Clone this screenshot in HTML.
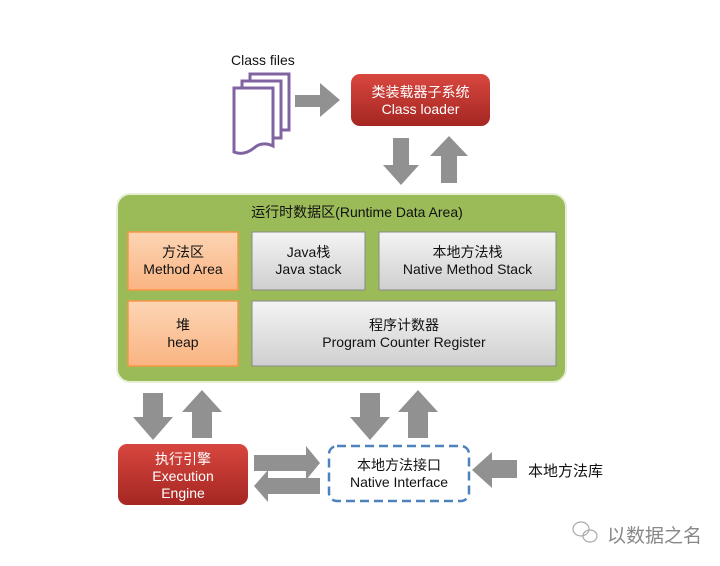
<!DOCTYPE html>
<html><head><meta charset="utf-8"><style>
body{margin:0;background:#fff;}
svg{display:block;font-family:"Liberation Sans","Noto Sans CJK SC",sans-serif;}
</style></head><body>
<svg width="720" height="566" viewBox="0 0 720 566" xmlns="http://www.w3.org/2000/svg">
<defs>
<linearGradient id="red" x1="0" y1="0" x2="0" y2="1"><stop offset="0" stop-color="#d8473f"/><stop offset="1" stop-color="#a52622"/></linearGradient>
<linearGradient id="gray" x1="0" y1="0" x2="0" y2="1"><stop offset="0" stop-color="#f4f4f4"/><stop offset="1" stop-color="#cfcfcf"/></linearGradient>
<linearGradient id="org" x1="0" y1="0" x2="0" y2="1"><stop offset="0" stop-color="#fcd5b4"/><stop offset="1" stop-color="#fab482"/></linearGradient>
</defs>
<text x="231" y="65" font-size="14" fill="#111">Class files</text>
<g fill="#fff" stroke="#8064a2" stroke-width="3">
<path d="M250 74 H289 V130 H250 Z"/>
<path d="M242 81 H281 V138 H242 Z"/>
<path d="M234 88 H273 V146 Q262 141 254 148 Q244 156 234 152 Z"/>
</g>
<g fill="#919191">
<path d="M295 95 H320 V83 L340 100 L320 117 V107 H295 Z"/>
<path d="M393 138 H409 V165 H419 L401 185 L383 165 H393 Z"/>
<path d="M441 183 H457 V156 H468 L449 136 L430 156 H441 Z"/>
<path d="M143 393 H163 V417 H173 L153 440 L133 417 H143 Z"/>
<path d="M192 438 H212 V412 H222 L202 390 L182 412 H192 Z"/>
<path d="M360 393 H380 V417 H390 L370 440 L350 417 H360 Z"/>
<path d="M408 438 H428 V412 H438 L418 390 L398 412 H408 Z"/>
<path d="M254 455 H306 V446 L320 463 L306 480 V471 H254 Z"/>
<path d="M320 478 H268 V470 L254 486 L268 502 V494 H320 Z"/>
<path d="M517 460 H492 V452 L472 470 L492 488 V478 H517 Z"/>
</g>
<rect x="351" y="74" width="139" height="52" rx="9" fill="url(#red)"/>
<text x="420.5" y="97" font-size="14" fill="#fff" text-anchor="middle">类装载器子系统</text>
<text x="420.5" y="114" font-size="14" fill="#fff" text-anchor="middle">Class loader</text>
<rect x="117" y="194" width="449" height="188" rx="13" fill="#9bbb59" stroke="#e8efd8" stroke-width="2"/>
<text x="357" y="217" font-size="14" fill="#111" text-anchor="middle">运行时数据区(Runtime Data Area)</text>
<rect x="128" y="232" width="110" height="58" fill="url(#org)" stroke="#f79646" stroke-width="1.5"/>
<text x="183" y="257" font-size="14" text-anchor="middle" fill="#111">方法区</text>
<text x="183" y="274" font-size="14" text-anchor="middle" fill="#111">Method Area</text>
<rect x="252" y="232" width="113" height="58" fill="url(#gray)" stroke="#888" stroke-width="1"/>
<text x="308.5" y="257" font-size="14" text-anchor="middle" fill="#111">Java栈</text>
<text x="308.5" y="274" font-size="14" text-anchor="middle" fill="#111">Java stack</text>
<rect x="379" y="232" width="177" height="58" fill="url(#gray)" stroke="#888" stroke-width="1"/>
<text x="467.5" y="257" font-size="14" text-anchor="middle" fill="#111">本地方法栈</text>
<text x="467.5" y="274" font-size="14" text-anchor="middle" fill="#111">Native Method Stack</text>
<rect x="128" y="301" width="110" height="65" fill="url(#org)" stroke="#f79646" stroke-width="1.5"/>
<text x="183" y="330" font-size="14" text-anchor="middle" fill="#111">堆</text>
<text x="183" y="347" font-size="14" text-anchor="middle" fill="#111">heap</text>
<rect x="252" y="301" width="304" height="65" fill="url(#gray)" stroke="#888" stroke-width="1"/>
<text x="404" y="330" font-size="14" text-anchor="middle" fill="#111">程序计数器</text>
<text x="404" y="347" font-size="14" text-anchor="middle" fill="#111">Program Counter Register</text>
<rect x="118" y="444" width="130" height="61" rx="9" fill="url(#red)"/>
<text x="183" y="464" font-size="14" fill="#fff" text-anchor="middle">执行引擎</text>
<text x="183" y="481" font-size="14" fill="#fff" text-anchor="middle">Execution</text>
<text x="183" y="498" font-size="14" fill="#fff" text-anchor="middle">Engine</text>
<rect x="329" y="446" width="140" height="55" rx="8" fill="#fff" stroke="#4f81bd" stroke-width="2.5" stroke-dasharray="9,5"/>
<text x="399" y="470" font-size="14" fill="#111" text-anchor="middle">本地方法接口</text>
<text x="399" y="487" font-size="14" fill="#111" text-anchor="middle">Native Interface</text>
<text x="528" y="476" font-size="15" fill="#111">本地方法库</text>
<g fill="none" stroke="#aaa" stroke-width="1.2"><ellipse cx="581" cy="529" rx="8" ry="7"/><ellipse cx="590" cy="536" rx="7" ry="6"/></g>
<text x="607" y="542" font-size="19" fill="#888">以数据之名</text>
</svg>
</body></html>
